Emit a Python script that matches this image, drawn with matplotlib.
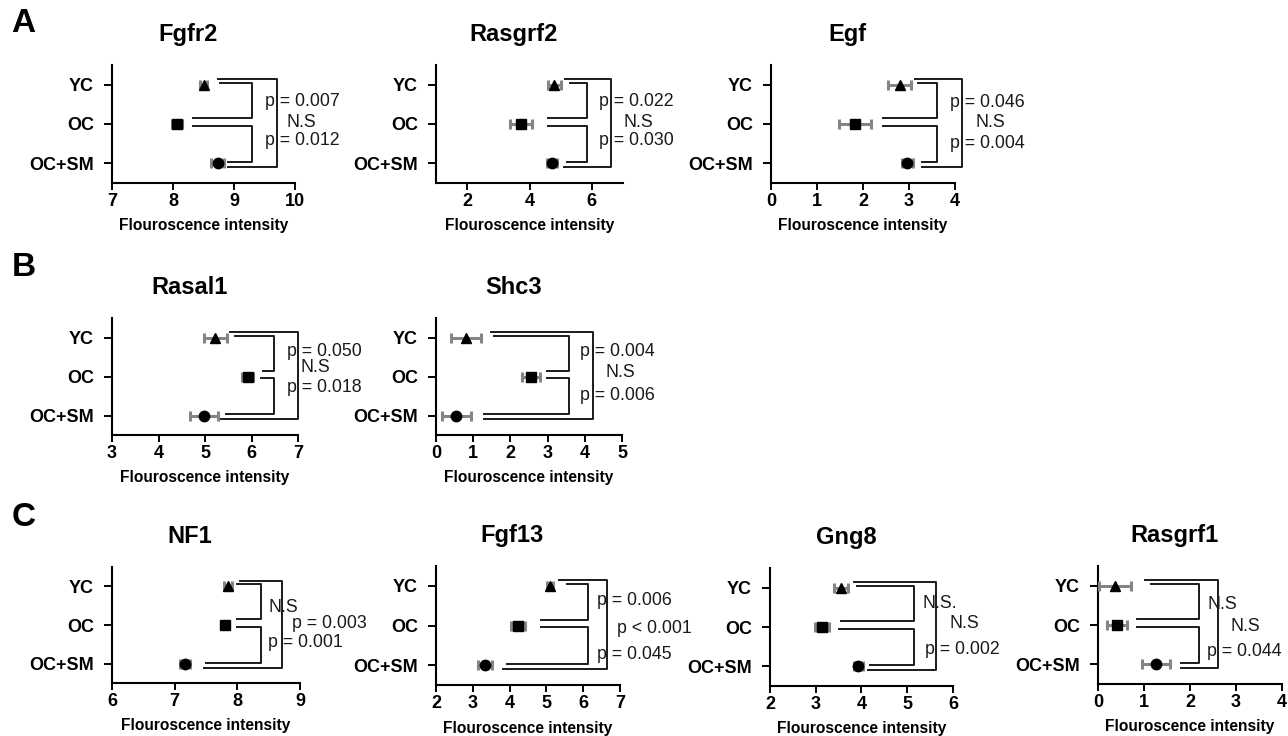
import matplotlib
matplotlib.use('Agg')
import matplotlib.pyplot as plt

# группы и маркеры
groups = ['YC', 'OC', 'OC+SM']
markers = ['^', 's', 'o']

# средние значения и ошибки
fgfr2_mean = [8.50, 8.07, 8.73]
fgfr2_err = [0.05, 0.08, 0.10]
rasgrf2_mean = [4.80, 3.73, 4.72]
rasgrf2_err = [0.20, 0.35, 0.15]
egf_mean = [2.80, 1.83, 2.96]
egf_err = [0.25, 0.35, 0.12]
rasal1_mean = [5.22, 5.92, 4.98]
rasal1_err = [0.25, 0.12, 0.30]
shc3_mean = [0.80, 2.55, 0.55]
shc3_err = [0.40, 0.25, 0.40]
nf1_mean = [7.85, 7.80, 7.17]
nf1_err = [0.07, 0.05, 0.08]
fgf13_mean = [5.10, 4.23, 3.33]
fgf13_err = [0.08, 0.20, 0.20]
gng8_mean = [3.55, 3.13, 3.93]
gng8_err = [0.15, 0.15, 0.10]
rasgrf1_mean = [0.37, 0.42, 1.26]
rasgrf1_err = [0.35, 0.22, 0.30]

# подписи статистики: YC-OC, YC-OC+SM (или средняя), OC-OC+SM
fgfr2_p = ['p = 0.007', 'N.S', 'p = 0.012']
rasgrf2_p = ['p = 0.022', 'N.S', 'p = 0.030']
egf_p = ['p = 0.046', 'N.S', 'p = 0.004']
rasal1_p = ['p = 0.050', 'N.S', 'p = 0.018']
shc3_p = ['p = 0.004', 'N.S', 'p = 0.006']
nf1_p = ['N.S', 'p = 0.003', 'p = 0.001']
fgf13_p = ['p = 0.006', 'p < 0.001', 'p = 0.045']
gng8_p = ['N.S.', 'N.S', 'p = 0.002']
rasgrf1_p = ['N.S', 'N.S', 'p = 0.044']

xlabel = 'Flouroscence intensity'

W, H = 1288, 736
plt.rcParams['font.family'] = ['Liberation Sans', 'DejaVu Sans']
fig = plt.figure(figsize=(W / 100, H / 100), dpi=100)

# раскладка панелей: прямоугольник в пикселях, оси, скобки, позиции текстов
panels = [
    dict(name='Fgfr2', m=fgfr2_mean, e=fgfr2_err, p=fgfr2_p, box=(112, 65, 295, 183),
         xlim=(7, 10), xt=[7, 8, 9, 10], inner=9.3, outer=9.7,
         arms=(8.74, 8.77, 8.33, 8.33, 8.9, 8.9),
         txt=[(9.5, 0.42, 'left'), (10.11, 0.97, 'center'), (9.5, 1.42, 'left')]),
    dict(name='Rasgrf2', m=rasgrf2_mean, e=rasgrf2_err, p=rasgrf2_p, box=(436, 65, 623, 183),
         xlim=(1, 7), xt=[2, 4, 6], inner=5.83, outer=6.6,
         arms=(5.15, 5.3, 4.6, 4.6, 5.2, 5.1),
         txt=[(6.24, 0.42, 'left'), (7.48, 0.97, 'center'), (6.24, 1.42, 'left')]),
    dict(name='Egf', m=egf_mean, e=egf_err, p=egf_p, box=(771, 65, 955, 183),
         xlim=(0, 4), xt=[0, 1, 2, 3, 4], inner=3.6, outer=4.15,
         arms=(3.13, 3.2, 2.43, 2.43, 3.28, 3.28),
         txt=[(3.89, 0.45, 'left'), (4.76, 0.97, 'center'), (3.89, 1.5, 'left')]),
    dict(name='Rasal1', m=rasal1_mean, e=rasal1_err, p=rasal1_p, box=(112, 318, 298, 435),
         xlim=(3, 7), xt=[3, 4, 5, 6, 7], inner=6.48, outer=7.0,
         arms=(5.54, 5.65, 6.25, 6.2, 5.45, 5.35),
         txt=[(6.76, 0.36, 'left'), (7.37, 0.78, 'center'), (6.76, 1.27, 'left')]),
    dict(name='Shc3', m=shc3_mean, e=shc3_err, p=shc3_p, box=(436, 318, 622, 435),
         xlim=(0, 5), xt=[0, 1, 2, 3, 4, 5], inner=3.58, outer=4.22,
         arms=(1.48, 1.55, 2.98, 2.98, 1.3, 1.3),
         txt=[(3.87, 0.36, 'left'), (4.95, 0.91, 'center'), (3.87, 1.48, 'left')]),
    dict(name='NF1', m=nf1_mean, e=nf1_err, p=nf1_p, box=(112, 567, 300, 683),
         xlim=(6, 9), xt=[6, 7, 8, 9], inner=8.38, outer=8.72,
         arms=(8.05, 8.0, 8.0, 8.0, 7.5, 7.47),
         txt=[(8.49, 0.55, 'left'), (8.87, 0.96, 'left'), (8.49, 1.45, 'left')]),
    dict(name='Fgf13', m=fgf13_mean, e=fgf13_err, p=fgf13_p, box=(436, 566, 620, 685),
         xlim=(2, 7), xt=[2, 3, 4, 5, 6, 7], inner=6.13, outer=6.65,
         arms=(5.35, 5.55, 4.85, 4.85, 3.92, 3.82),
         txt=[(6.38, 0.38, 'left'), (6.92, 1.08, 'left'), (6.38, 1.72, 'left')]),
    dict(name='Gng8', m=gng8_mean, e=gng8_err, p=gng8_p, box=(770, 568, 953, 686),
         xlim=(2, 6), xt=[2, 3, 4, 5, 6], inner=5.15, outer=5.63,
         arms=(3.83, 3.9, 3.55, 3.5, 4.18, 4.15),
         txt=[(5.34, 0.41, 'left'), (5.93, 0.91, 'left'), (5.38, 1.57, 'left')]),
    dict(name='Rasgrf1', m=rasgrf1_mean, e=rasgrf1_err, p=rasgrf1_p, box=(1098, 566, 1282, 684),
         xlim=(0, 4), xt=[0, 1, 2, 3, 4], inner=2.2, outer=2.6,
         arms=(1.02, 1.15, 0.85, 0.85, 1.8, 1.8),
         txt=[(2.37, 0.48, 'left'), (2.87, 1.05, 'left'), (2.37, 1.68, 'left')]),
]

LC = '#1a1a1a'

for pn in panels:
    x0, y0, x1, y1 = pn['box']
    ax = fig.add_axes([x0 / W, 1 - y1 / H, (x1 - x0) / W, (y1 - y0) / H])

    for i in range(len(groups)):
        ax.errorbar(pn['m'][i], i, xerr=pn['e'][i], fmt=markers[i], color='black',
                    markersize=7.5, ecolor='#858585', elinewidth=2.2, capsize=3.5,
                    capthick=2.2, clip_on=False, zorder=3)

    ax.set_xlim(pn['xlim'])
    ax.set_ylim(2.5, -0.5)
    ax.set_xticks(pn['xt'])
    ax.set_yticks(range(len(groups)))
    ax.set_yticklabels(groups)
    for lab in ax.get_xticklabels() + ax.get_yticklabels():
        lab.set_fontweight('bold')
        lab.set_fontsize(13)
    ax.tick_params(axis='x', direction='out', length=5, width=1.4, pad=2)
    ax.tick_params(axis='y', direction='out', length=6, width=1.4, pad=7)
    for s in ['top', 'right']:
        ax.spines[s].set_visible(False)
    for s in ['left', 'bottom']:
        ax.spines[s].set_linewidth(1.5)

    ax.set_xlabel(xlabel, fontsize=11.2, fontweight='bold')
    ax.xaxis.set_label_coords(0.5, -0.3)
    ax.text(0.415, 1.26, pn['name'], transform=ax.transAxes, ha='center',
            va='center', fontsize=17, fontweight='bold')

    # скобки сравнения
    yo, yi, ou, ol, si, so = pn['arms']
    a, b = pn['inner'], pn['outer']
    ax.plot([yi, a, a, ou], [-0.05, -0.05, 0.85, 0.85], color=LC, lw=1.4, clip_on=False)
    ax.plot([ol, a, a, si], [1.05, 1.05, 1.97, 1.97], color=LC, lw=1.4, clip_on=False)
    ax.plot([yo, b, b, so], [-0.15, -0.15, 2.1, 2.1], color=LC, lw=1.4, clip_on=False)

    for (tx, ty, ha), lab in zip(pn['txt'], pn['p']):
        ax.text(tx, ty, lab, ha=ha, va='center', fontsize=12.8, color=LC, clip_on=False)

for letter, (lx, ly) in zip(['A', 'B', 'C'], [(23, 24), (24, 267), (24, 518)]):
    fig.text(lx / W, 1 - ly / H, letter, ha='center', va='center', fontsize=24,
             fontweight='bold')

fig.savefig('out.png', dpi=100)
